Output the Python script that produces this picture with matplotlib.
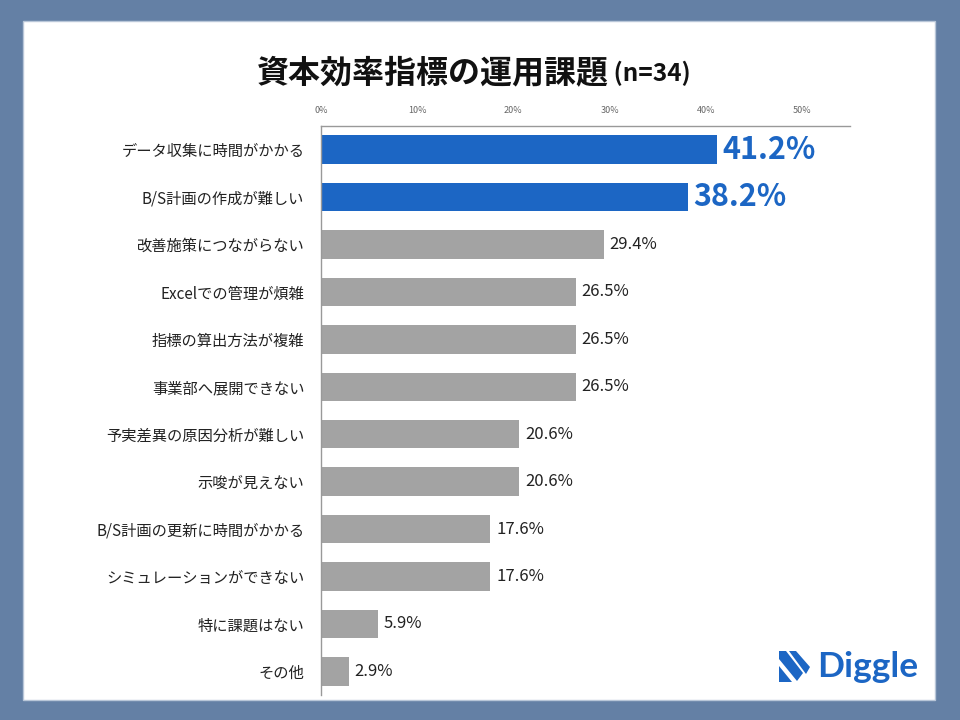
import matplotlib
matplotlib.use("Agg")
import matplotlib.pyplot as plt
from matplotlib.patches import Rectangle, Polygon

plt.rcParams['font.family'] = ['Noto Sans CJK JP', 'DejaVu Sans']

categories = ["データ収集に時間がかかる", "B/S計画の作成が難しい", "改善施策につながらない",
              "Excelでの管理が煩雑", "指標の算出方法が複雑", "事業部へ展開できない",
              "予実差異の原因分析が難しい", "示唆が見えない", "B/S計画の更新に時間がかかる",
              "シミュレーションができない", "特に課題はない", "その他"]
values = [41.2, 38.2, 29.4, 26.5, 26.5, 26.5, 20.6, 20.6, 17.6, 17.6, 5.9, 2.9]
highlight = [True, True] + [False] * 10
xticks = [0, 10, 20, 30, 40, 50]
xtick_labels = ["0%", "10%", "20%", "30%", "40%", "50%"]
title = "資本効率指標の運用課題"
subtitle = " (n=34)"

BLUE = "#1c66c4"
GRAY = "#a3a3a3"
BG = "#6480a5"

W, H = 960, 720
fig = plt.figure(figsize=(9.6, 7.2), dpi=100, facecolor=BG)

def px(x, y):
    return x / W, 1 - y / H

# white panel
fig.patches.append(Rectangle((23 / W, 1 - 700 / H), (935 - 23) / W, (700 - 21) / H,
                             transform=fig.transFigure, facecolor="white",
                             edgecolor="#b8c6d8", linewidth=1, zorder=-5))

ax = fig.add_axes([321 / W, 1 - 695 / H, (850 - 321) / W, (695 - 126) / H])
ax.set_zorder(2)
ax.patch.set_alpha(0)
y = list(range(len(categories)))
colors = [BLUE if h else GRAY for h in highlight]
ax.barh(y, values, height=0.6, color=colors, zorder=2)
ax.set_xlim(0, 55)
ax.set_ylim(len(categories) - 0.5, -0.5)

ax.xaxis.tick_top()
ax.set_xticks(xticks)
ax.set_xticklabels(xtick_labels, fontsize=6.5, color="#666666")
ax.tick_params(axis='x', length=0, pad=8)
ax.set_yticks(y)
ax.set_yticklabels(categories, fontsize=11, color="#222222")
ax.tick_params(axis='y', length=0, pad=12)

for s in ["right", "bottom"]:
    ax.spines[s].set_visible(False)
ax.spines["top"].set_color("#999999")
ax.spines["left"].set_color("#999999")
ax.spines["top"].set_linewidth(1)
ax.spines["left"].set_linewidth(1)

for yi, v, h in zip(y, values, highlight):
    if h:
        ax.text(v + 0.5, yi, f"{v:.1f}%", va="center", ha="left", fontsize=22,
                fontweight="bold", color=BLUE)
    else:
        ax.text(v + 0.6, yi, f"{v:.1f}%", va="center", ha="left", fontsize=12,
                color="#222222")

# title
fig.text(px(609, 73)[0], px(609, 73)[1], title, ha="right", va="center",
         fontsize=23, fontweight="bold", color="#111111")
fig.text(px(608, 73)[0], px(608, 73)[1], subtitle, ha="left", va="center",
         fontsize=17.5, fontweight="bold", color="#111111")

# logo icon
shapes = [
    [(779, 651), (786, 651), (803, 673), (797, 681), (779, 659)],
    [(789, 651), (796, 651), (810, 667), (806, 674)],
    [(779, 666), (779, 682), (792, 682)],
]
for sh in shapes:
    fig.patches.append(Polygon([px(a, b) for a, b in sh], closed=True,
                               transform=fig.transFigure, facecolor=BLUE,
                               edgecolor="none", zorder=3))
fig.text(px(817, 667)[0], px(817, 667)[1], "Diggle", ha="left", va="center",
         fontsize=25.5, fontweight="bold", color=BLUE, family=["Lato", "DejaVu Sans"])

fig.savefig("out.png", dpi=100, facecolor=BG)
